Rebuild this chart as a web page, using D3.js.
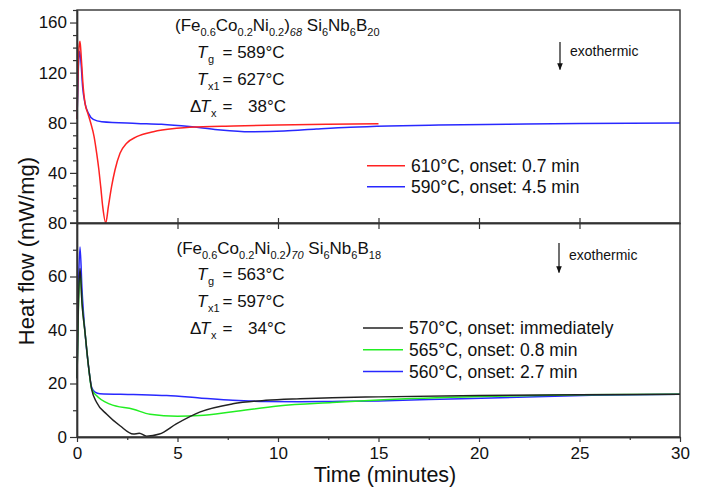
<!DOCTYPE html>
<html lang="en">
<head>
  <meta charset="UTF-8" />
  <title>Isothermal DSC - heat flow vs time</title>
  <script src="https://d3js.org/d3.v7.min.js"></script>
  <style>
    body { margin: 0; background: #fff; }
    svg { font-family: "Liberation Sans", Arial, sans-serif; }
  </style>
</head>
<body>
<div id="chart"></div>
<script>
  // ---- top panel, (Fe0.6Co0.2Ni0.2)68 Si6Nb6B20 ----
  var red610T = [0, 0.05, 0.1, 0.15, 0.22, 0.31, 0.4, 0.55, 0.68, 0.85, 0.98, 1.09, 1.18, 1.28, 1.43, 1.56, 1.72, 1.89, 2.14, 2.47, 2.97, 3.8, 4.96, 5.6, 7.8, 10, 12.5, 15];
  var red610V = [83, 118, 140, 145, 130, 108, 95.5, 87, 80, 69, 55.6, 42.3, 29, 13, 0, 13, 29, 42.3, 55.6, 63.6, 68.9, 72.9, 75.6, 76.5, 77.5, 78.2, 78.8, 79.3];
  var blue590T = [0, 0.06, 0.13, 0.2, 0.28, 0.4, 0.57, 0.81, 1.23, 2.97, 4.2, 5.6, 7.0, 8.6, 10.3, 11.9, 13.6, 15.5, 18, 21.4, 25, 30];
  var blue590V = [83, 120, 137, 128, 108.5, 95.5, 87.5, 82.7, 80.8, 79.5, 78.8, 77, 74.5, 72.9, 73.4, 75, 76.5, 77.5, 78.2, 78.8, 79.4, 79.9];

  // ---- bottom panel, (Fe0.6Co0.2Ni0.2)70 Si6Nb6B18 ----
  var black570T = [0, 0.07, 0.15, 0.25, 0.4, 0.57, 0.73, 0.98, 1.48, 2.14, 2.8, 3.1, 3.46, 4.1, 4.94, 6.1, 7.75, 9.4, 11.1, 12.7, 15, 20, 25, 30];
  var black570V = [22, 50, 63, 50, 39, 26.6, 17.9, 12.9, 8.5, 4.2, 1.1, 1.4, 0.3, 1.1, 4.9, 9.3, 12.4, 13.7, 14.3, 14.7, 15, 15.5, 15.8, 16];
  var green565T = [0, 0.07, 0.15, 0.25, 0.4, 0.57, 0.73, 0.98, 1.64, 2.8, 3.63, 5.0, 6.1, 7.75, 10, 12.7, 15, 20, 25, 30];
  var green565V = [22, 48, 62, 50, 39, 26.6, 17.9, 15.4, 12.3, 10.4, 8.5, 7.8, 8.0, 9.4, 11.6, 12.9, 13.8, 15.1, 15.8, 16];
  var blue560T = [0, 0.07, 0.15, 0.25, 0.4, 0.57, 0.73, 0.9, 1.14, 2.8, 4.46, 6.1, 7.75, 9.4, 11.1, 12.7, 15, 17.5, 20.6, 25.6, 30];
  var blue560V = [22, 55, 71, 55, 39, 26.6, 18.5, 16.8, 16.2, 15.9, 15.5, 14.6, 13.7, 13.3, 13.2, 13.3, 13.5, 14, 14.6, 15.6, 16];

  // tick labels (the bottom label of the top panel reads "80" in the original)
  var xTicks = [0, 5, 10, 15, 20, 25, 30];
  var topYTicks = [0, 40, 80, 120, 160];
  var topYLabels = ["80", "40", "80", "120", "160"];
  var botYTicks = [0, 20, 40, 60];
  var botYLabels = ["0", "20", "40", "60"];

  var topLegend = ["610°C, onset: 0.7 min", "590°C, onset: 4.5 min"];
  var botLegend = ["570°C, onset: immediately", "565°C, onset: 0.8 min", "560°C, onset: 2.7 min"];

  var topAlloy = [["(Fe", 0], ["0.6", 1], ["Co", 0], ["0.2", 1], ["Ni", 0], ["0.2", 1], [")", 0], ["68", 1], [" Si", 0], ["6", 1], ["Nb", 0], ["6", 1], ["B", 0], ["20", 1]];
  var botAlloy = [["(Fe", 0], ["0.6", 1], ["Co", 0], ["0.2", 1], ["Ni", 0], ["0.2", 1], [")", 0], ["70", 1], [" Si", 0], ["6", 1], ["Nb", 0], ["6", 1], ["B", 0], ["18", 1]];
  var topTemps = ["589°C", "627°C", "38°C"];
  var botTemps = ["563°C", "597°C", "34°C"];

  var w = 704, h = 487;
  var padL = 77, padR = 680, padT = 10, padMid = 223, padB = 437;

  var svg = d3.select("#chart").append("svg")
    .attr("width", w)
    .attr("height", h);

  var x = d3.scaleLinear().domain([0, 30]).range([padL, padR]);
  var yTop = d3.scaleLinear().domain([0, 170]).range([padMid, padT]);
  var yBot = d3.scaleLinear().domain([0, 80]).range([padB, padMid]);

  function pairs(t, v) {
    return t.map(function(d, i) { return [d, v[i]]; });
  }

  function drawLine(t, v, y, color) {
    var line = d3.line()
      .x(function(d) { return x(d[0]); })
      .y(function(d) { return y(d[1]); })
      .curve(d3.curveMonotoneX);
    svg.append("path")
      .datum(pairs(t, v))
      .attr("d", line)
      .attr("fill", "none")
      .attr("stroke", color)
      .attr("stroke-width", 1.5)
      .attr("stroke-linejoin", "round");
  }

  // curves
  drawLine(blue590T, blue590V, yTop, "#2828ff");
  drawLine(red610T, red610V, yTop, "#ff2222");
  drawLine(blue560T, blue560V, yBot, "#2828ff");
  drawLine(green565T, green565V, yBot, "#22ee22");
  drawLine(black570T, black570V, yBot, "#222222");

  // ---- axes ----
  var axisColor = "#333";

  function minorTicks(domain, step, majors) {
    var out = [];
    for (var v = domain[0]; v <= domain[1] + 1e-9; v += step) {
      if (majors.indexOf(+v.toFixed(4)) < 0) out.push(+v.toFixed(4));
    }
    return out;
  }

  // top panel y axis
  svg.append("g")
    .attr("transform", "translate(" + padL + ",0)")
    .call(d3.axisLeft(yTop).tickValues(minorTicks([0, 170], 10, topYTicks)).tickSize(4).tickFormat("").tickSizeOuter(0));
  svg.append("g")
    .attr("transform", "translate(" + padL + ",0)")
    .call(d3.axisLeft(yTop).tickValues(topYTicks).tickSize(7).tickPadding(3).tickSizeOuter(0)
      .tickFormat(function(d, i) { return topYLabels[i]; }));

  // bottom panel y axis
  svg.append("g")
    .attr("transform", "translate(" + padL + ",0)")
    .call(d3.axisLeft(yBot).tickValues([10, 30, 50, 70]).tickSize(4).tickFormat("").tickSizeOuter(0));
  svg.append("g")
    .attr("transform", "translate(" + padL + ",0)")
    .call(d3.axisLeft(yBot).tickValues(botYTicks).tickSize(7).tickPadding(3).tickSizeOuter(0)
      .tickFormat(function(d, i) { return botYLabels[i]; }));

  // bottom x axis
  svg.append("g")
    .attr("transform", "translate(0," + padB + ")")
    .call(d3.axisBottom(x).tickValues(minorTicks([0, 30], 2.5, xTicks)).tickSize(3).tickFormat("").tickSizeOuter(0));
  svg.append("g")
    .attr("transform", "translate(0," + padB + ")")
    .call(d3.axisBottom(x).tickValues(xTicks).tickSize(5).tickPadding(5).tickSizeOuter(0));

  // ticks crossing the panel divider
  svg.append("g")
    .attr("transform", "translate(0," + padMid + ")")
    .call(d3.axisBottom(x).tickValues([5, 10, 15, 20, 25]).tickSize(6).tickFormat("").tickSizeOuter(0));
  svg.append("g")
    .attr("transform", "translate(0," + padMid + ")")
    .call(d3.axisTop(x).tickValues([5, 10, 15, 20, 25]).tickSize(5).tickFormat("").tickSizeOuter(0));

  svg.selectAll(".tick line").attr("stroke", axisColor).attr("stroke-width", 1.2);
  svg.selectAll(".domain").attr("stroke", axisColor).attr("stroke-width", 1.4);
  svg.selectAll(".tick text").attr("fill", "#111").style("font-size", "17px")
    .style("font-family", "'Liberation Sans', Arial, sans-serif");

  // panel frames
  svg.append("rect")
    .attr("x", padL).attr("y", padT)
    .attr("width", padR - padL).attr("height", padB - padT)
    .attr("fill", "none").attr("stroke", axisColor).attr("stroke-width", 1.4);
  svg.append("line")
    .attr("x1", padL - 7).attr("x2", padR)
    .attr("y1", padMid).attr("y2", padMid)
    .attr("stroke", axisColor).attr("stroke-width", 1.4);

  // axis titles
  svg.append("text")
    .attr("transform", "translate(34,251) rotate(-90)")
    .attr("text-anchor", "middle")
    .style("font-size", "22px")
    .attr("fill", "#111")
    .text("Heat flow (mW/mg)");
  svg.append("text")
    .attr("x", 385).attr("y", 482)
    .attr("text-anchor", "middle")
    .style("font-size", "21.5px")
    .attr("fill", "#111")
    .text("Time (minutes)");

  // ---- annotations ----
  function alloyLabel(parts, x0, base) {
    var t = svg.append("text").attr("x", x0).attr("y", base).attr("fill", "#111").style("font-size", "17px");
    parts.forEach(function(p, i) {
      var prev = i > 0 ? parts[i - 1][1] : 0;
      t.append("tspan")
        .attr("dy", p[1] === prev ? 0 : (p[1] ? 5 : -5))
        .style("font-size", p[1] ? "11px" : "17px")
        .style("font-style", p[1] && i === 7 ? "italic" : null)
        .text(p[0]);
    });
  }

  function tempBlock(vals, base) {
    var rows = [
      { pre: "", sub: "g" },
      { pre: "", sub: "x1" },
      { pre: "\u0394", sub: "x" }
    ];
    rows.forEach(function(r, i) {
      var yy = base + i * 27;
      var g = svg.append("g").attr("fill", "#111");
      if (r.pre) {
        g.append("text").attr("x", 190).attr("y", yy).style("font-size", "17px").text(r.pre);
      }
      g.append("text").attr("x", r.pre ? 200 : 197).attr("y", yy)
        .style("font-size", "17px").style("font-style", "italic").text("T");
      g.append("text").attr("x", r.pre ? 211 : 208).attr("y", yy + 5)
        .style("font-size", "11px").text(r.sub);
      g.append("text").attr("x", 222.5).attr("y", yy)
        .style("font-size", "17px").style("white-space", "pre")
        .text(i === 2 ? "=" : "= " + vals[i]);
      if (i === 2) {
        g.append("text").attr("x", 248).attr("y", yy).style("font-size", "17px").text(vals[i]);
      }
    });
  }

  alloyLabel(topAlloy, 175, 31);
  tempBlock(topTemps, 57.5);
  alloyLabel(botAlloy, 176.5, 253.5);
  tempBlock(botTemps, 280);

  // exothermic arrows
  var defs = svg.append("defs");
  defs.append("marker")
    .attr("id", "arrow")
    .attr("viewBox", "0 0 10 10")
    .attr("refX", 9).attr("refY", 5)
    .attr("markerWidth", 7).attr("markerHeight", 7)
    .attr("markerUnits", "userSpaceOnUse")
    .attr("orient", "auto")
    .append("path")
    .attr("d", "M0,1 L10,5 L0,9 Z")
    .attr("fill", "#111");

  [[560, 42, 69.5, 56], [559, 243, 272.5, 260]].forEach(function(a) {
    svg.append("line")
      .attr("x1", a[0]).attr("x2", a[0])
      .attr("y1", a[1]).attr("y2", a[2])
      .attr("stroke", "#111").attr("stroke-width", 1.2)
      .attr("marker-end", "url(#arrow)");
    svg.append("text")
      .attr("x", a[0] + 10).attr("y", a[3])
      .style("font-size", "14px").attr("fill", "#111")
      .text("exothermic");
  });

  // legends
  var topColors = ["#ff2222", "#2828ff"];
  var botColors = ["#222222", "#22ee22", "#2828ff"];

  function legend(labels, colors, x0, x1, y0, dy) {
    labels.forEach(function(l, i) {
      var yy = y0 + i * dy;
      svg.append("line")
        .attr("x1", x0).attr("x2", x1)
        .attr("y1", yy).attr("y2", yy)
        .attr("stroke", colors[i]).attr("stroke-width", 1.5);
      svg.append("text")
        .attr("x", x1 + 6).attr("y", yy + 6)
        .style("font-size", "17.5px").attr("fill", "#111")
        .text(l);
    });
  }

  legend(topLegend, topColors, 367, 405, 165.7, 21);
  legend(botLegend, botColors, 363, 403, 328, 21.8);
</script>
</body>
</html>
